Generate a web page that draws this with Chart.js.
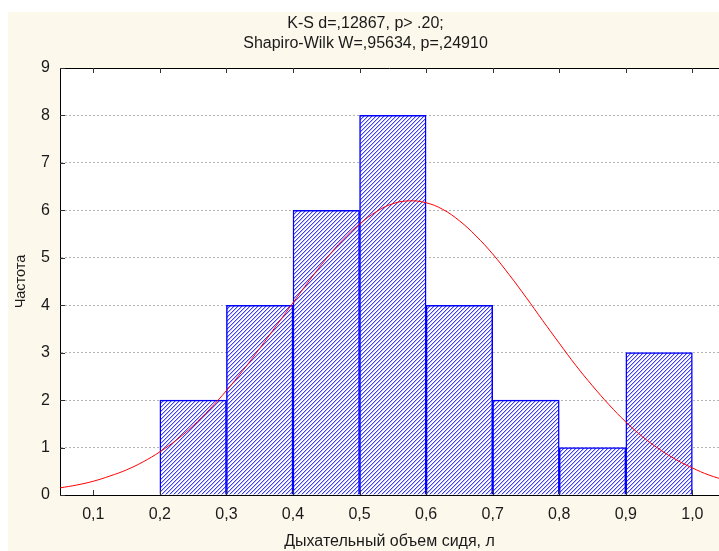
<!DOCTYPE html>
<html><head><meta charset="utf-8">
<script src="https://cdn.jsdelivr.net/npm/chart.js@4.4.1/dist/chart.umd.min.js"></script>
<style>html,body{margin:0;padding:0;background:#fff;}#wrap{width:719px;height:551px;}</style>
</head><body><div id="wrap"><canvas id="c" width="719" height="551"></canvas></div>
<script>
// ---- data ----
const titleLines = ['K-S d=,12867, p> .20;', 'Shapiro-Wilk W=,95634, p=,24910'];
const xAxisTitle = 'Дыхательный объем сидя, л';
const yAxisTitle = 'Частота';
const binCenters = [0.25, 0.35, 0.45, 0.55, 0.65, 0.75, 0.85, 0.95];
const binCounts = [2, 4, 6, 8, 4, 2, 1, 3];
const curveX = [0.05,0.075,0.1,0.125,0.15,0.175,0.2,0.225,0.25,0.275,0.3,0.325,0.35,0.375,0.4,0.425,0.45,0.475,0.5,0.525,0.55,0.575,0.6,0.625,0.65,0.675,0.7,0.725,0.75,0.775,0.8,0.825,0.85,0.875,0.9,0.925,0.95,0.975,1.0,1.025,1.05];
const curveY = [0.15,0.21,0.29,0.40,0.53,0.70,0.91,1.16,1.46,1.81,2.20,2.63,3.09,3.57,4.05,4.53,4.98,5.38,5.71,5.97,6.14,6.20,6.16,6.02,5.78,5.46,5.08,4.64,4.17,3.68,3.20,2.73,2.30,1.90,1.54,1.23,0.97,0.75,0.57,0.42,0.31];
const xTickValues = [0.1,0.2,0.3,0.4,0.5,0.6,0.7,0.8,0.9,1.0];
const xTickLabels = ['0,1','0,2','0,3','0,4','0,5','0,6','0,7','0,8','0,9','1,0'];
const yTickValues = [0,1,2,3,4,5,6,7,8,9];

// ---- hatch pattern ----
function makeHatch(){
  const t = document.createElement('canvas');
  t.width = 4; t.height = 4;
  const g = t.getContext('2d');
  g.fillStyle = '#ffffff'; g.fillRect(0,0,4,4);
  for (let x=0;x<4;x++) for (let y=0;y<4;y++){
    const k = (x+y)%4;
    if (k===3){ g.fillStyle='#3c3cff'; g.fillRect(x,y,1,1); }
    else if (k===0){ g.fillStyle='#c0c0ff'; g.fillRect(x,y,1,1); }
  }
  return document.getElementById('c').getContext('2d').createPattern(t,'repeat');
}

const bgPlugin = {
  id:'bg',
  beforeDraw(chart){
    const {ctx, chartArea:a} = chart;
    ctx.save();
    ctx.fillStyle='#ffffff'; ctx.fillRect(0,0,chart.width,chart.height);
    ctx.fillStyle='#fdf8ec'; ctx.fillRect(8,12,chart.width-8,chart.height-12);
    ctx.fillStyle='#ffffff'; ctx.fillRect(a.left,a.top,a.right-a.left,a.bottom-a.top);
    ctx.restore();
  },
  afterDraw(chart){
    const {ctx, chartArea:a, scales} = chart;
    ctx.save();
    ctx.strokeStyle='#000'; ctx.lineWidth=1;
    ctx.beginPath();
    ctx.moveTo(a.left, a.top+0.5); ctx.lineTo(a.right, a.top+0.5);
    ctx.stroke();
    ctx.strokeStyle='#333';
    ctx.beginPath();
    xTickValues.forEach(v=>{
      const px = Math.round(scales.x.getPixelForValue(v))+0.5;
      ctx.moveTo(px,a.bottom); ctx.lineTo(px,a.bottom-5);
      ctx.moveTo(px,a.top); ctx.lineTo(px,a.top+5);
    });
    yTickValues.forEach(v=>{
      const py = Math.round(scales.y.getPixelForValue(v))+0.5;
      ctx.moveTo(a.left,py); ctx.lineTo(a.left+5,py);
    });
    ctx.stroke();
    ctx.restore();
  }
};

const fontFam = '"Liberation Sans", Arial, sans-serif';
new Chart(document.getElementById('c'), {
  type:'bar',
  data:{
    datasets:[
      {
        type:'line',
        data: curveX.map((x,i)=>({x:x,y:curveY[i]})),
        borderColor:'#ff0000', borderWidth:1, pointRadius:0, tension:0.4, fill:false, order:0
      },
      {
        type:'bar',
        data: binCenters.map((x,i)=>({x:x,y:binCounts[i]})),
        backgroundColor: makeHatch(), borderColor:'#0000ff', borderWidth:1.5,
        barPercentage:1, categoryPercentage:1, grouped:false, order:1
      }
    ]
  },
  plugins:[bgPlugin],
  options:{
    responsive:false, animation:false, devicePixelRatio:1,
    layout:{padding:{left:12,right:0,top:0,bottom:0}},
    plugins:{
      legend:{display:false}, tooltip:{enabled:false},
      title:{display:true, text:titleLines, color:'#1a1a1a',
        font:{family:fontFam,size:16,weight:'normal',lineHeight:1.25}, padding:{top:14,bottom:14}}
    },
    scales:{
      x:{type:'linear', min:0.05, max:1.04, offset:false,
        afterBuildTicks(s){ s.ticks = xTickValues.map(v=>({value:v})); },
        afterFit(s){ s.height = 56; },
        ticks:{color:'#1a1a1a', font:{family:fontFam,size:16}, padding:10, maxRotation:0, autoSkip:false,
          callback:(v,i)=>xTickLabels[i]},
        grid:{display:false, drawTicks:false},
        border:{display:true,color:'#000',width:1},
        title:{display:true,text:xAxisTitle,color:'#1a1a1a',font:{family:fontFam,size:16},padding:{top:0,bottom:0}}
      },
      y:{type:'linear', min:0, max:9,
        afterBuildTicks(s){ s.ticks = yTickValues.map(v=>({value:v})); },
        afterFit(s){ s.width = 48; },
        ticks:{color:'#1a1a1a', font:{family:fontFam,size:16}, padding:10},
        grid:{display:true, drawTicks:false, lineWidth:1,
          color:(c)=> (c.tick && (c.tick.value===0 || c.tick.value===9)) ? 'rgba(0,0,0,0)' : '#b4b4b4'},
        border:{display:true,color:'#000',width:1, dash:[2,2]},
        title:{display:true,text:yAxisTitle,color:'#1a1a1a',font:{family:fontFam,size:14.5},padding:{top:0,bottom:4}}
      }
    }
  }
});
</script></body></html>
